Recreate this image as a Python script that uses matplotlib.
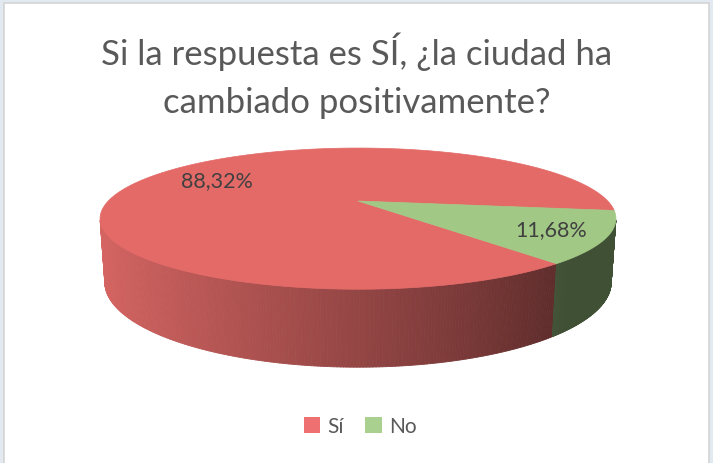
import numpy as np
import matplotlib.pyplot as plt
from matplotlib.patches import Polygon, Rectangle, Patch
from matplotlib.collections import PolyCollection

# datos
categorias = ['Sí', 'No']
porcentajes = [88.32, 11.68]
etiquetas = ['88,32%', '11,68%']
titulo = 'Si la respuesta es SÍ, ¿la ciudad ha\ncambiado positivamente?'

col_top = ['#E46A68', '#A2C886']
col_legend = ['#EE7070', '#A9D08E']
col_side = [(0.89, 0.42, 0.41), (0.63, 0.78, 0.52)]

# "camara" del pastel 3d
sphi = 0.265
cphi = np.sqrt(1 - sphi ** 2)
D = 3.86
grosor = 0.255
escala = 964
cx, cy = 358, 202
angulo_inicio = 140  # grados, sentido horario desde arriba


def proyectar(x, y, z):
    prof = y * cphi - z * sphi + D
    sx = x / prof
    sy = (y * sphi + z * cphi) / prof
    return cx + escala * sx, cy - escala * sy


fig = plt.figure(figsize=(7.13, 4.64), dpi=100)
fig.patch.set_facecolor('#E3E9F0')
ax = fig.add_axes([0, 0, 1, 1])
ax.set_xlim(0, 713)
ax.set_ylim(464, 0)
ax.axis('off')
ax.add_patch(Rectangle((3.5, 3.5), 705, 480, facecolor='white',
                       edgecolor='#D4D4D4', lw=1.2, zorder=0))

# angulos de cada porcion
fr = np.array(porcentajes) / sum(porcentajes)
bordes = angulo_inicio + 360 * np.concatenate([[0], np.cumsum(fr)])
limite = np.degrees(np.arcsin(-1 / (D * cphi)))  # borde visible del costado
vis_izq, vis_der = -180 - limite, limite

# costado con degradado
for i in range(len(categorias)):
    t0 = 90 - bordes[i + 1]
    ancho = bordes[i + 1] - bordes[i]
    t0 = (t0 + 180) % 360 - 180
    t1 = t0 + ancho
    a = max(t0, vis_izq)
    b = min(t1, vis_der)
    if b <= a:
        a = max(t0 - 360, vis_izq)
        b = min(t1 - 360, vis_der)
        if b <= a:
            continue
    th = np.radians(np.linspace(a, b, 200))
    polys, colores = [], []
    for k in range(len(th) - 1):
        x0, y0 = np.cos(th[k]), np.sin(th[k])
        x1, y1 = np.cos(th[k + 1]), np.sin(th[k + 1])
        pts = [proyectar(x0, y0, 0), proyectar(x1, y1, 0),
               proyectar(x1, y1, -grosor), proyectar(x0, y0, -grosor)]
        polys.append(pts)
        c = 0.5 * (x0 + x1)
        f = np.clip(0.95 - 0.53 * ((c + 1) / 1.643) ** 1.15, 0.40, 1)
        colores.append(tuple(np.array(col_side[i]) * f))
    ax.add_collection(PolyCollection(polys, facecolors=colores,
                                     edgecolors=colores, linewidths=0.6,
                                     zorder=2))

# cara superior
for i in range(len(categorias)):
    th = np.radians(90 - np.linspace(bordes[i], bordes[i + 1], 400))
    pts = [proyectar(0, 0, 0)] + [proyectar(np.cos(t), np.sin(t), 0) for t in th]
    ax.add_patch(Polygon(pts, closed=True, facecolor=col_top[i],
                         edgecolor=col_top[i], lw=0.5, zorder=3))

# etiquetas de datos
radios = [0.7, 0.8]
for i in range(len(categorias)):
    m = np.radians(90 - 0.5 * (bordes[i] + bordes[i + 1]))
    px, py = proyectar(radios[i] * np.cos(m), radios[i] * np.sin(m), 0)
    ax.text(px, py, etiquetas[i], ha='center', va='center', fontsize=15.5,
            color='#404040', family='Lato', zorder=5)

ax.text(357, 76, titulo, ha='center', va='center', fontsize=25,
        color='#595959', family='Lato', linespacing=1.6)

handles = [Patch(facecolor=col_legend[i], edgecolor='none') for i in range(len(categorias))]
leg = fig.legend(handles, categorias, loc='center', bbox_to_anchor=(360 / 713, 1 - 427 / 464),
                 ncol=2, frameon=False, handlelength=0.8, handleheight=0.8,
                 handletextpad=0.35, columnspacing=1.0,
                 prop={'family': 'Lato', 'size': 15})
for t in leg.get_texts():
    t.set_color('#595959')

plt.savefig('out.png', dpi=100, facecolor=fig.get_facecolor())
